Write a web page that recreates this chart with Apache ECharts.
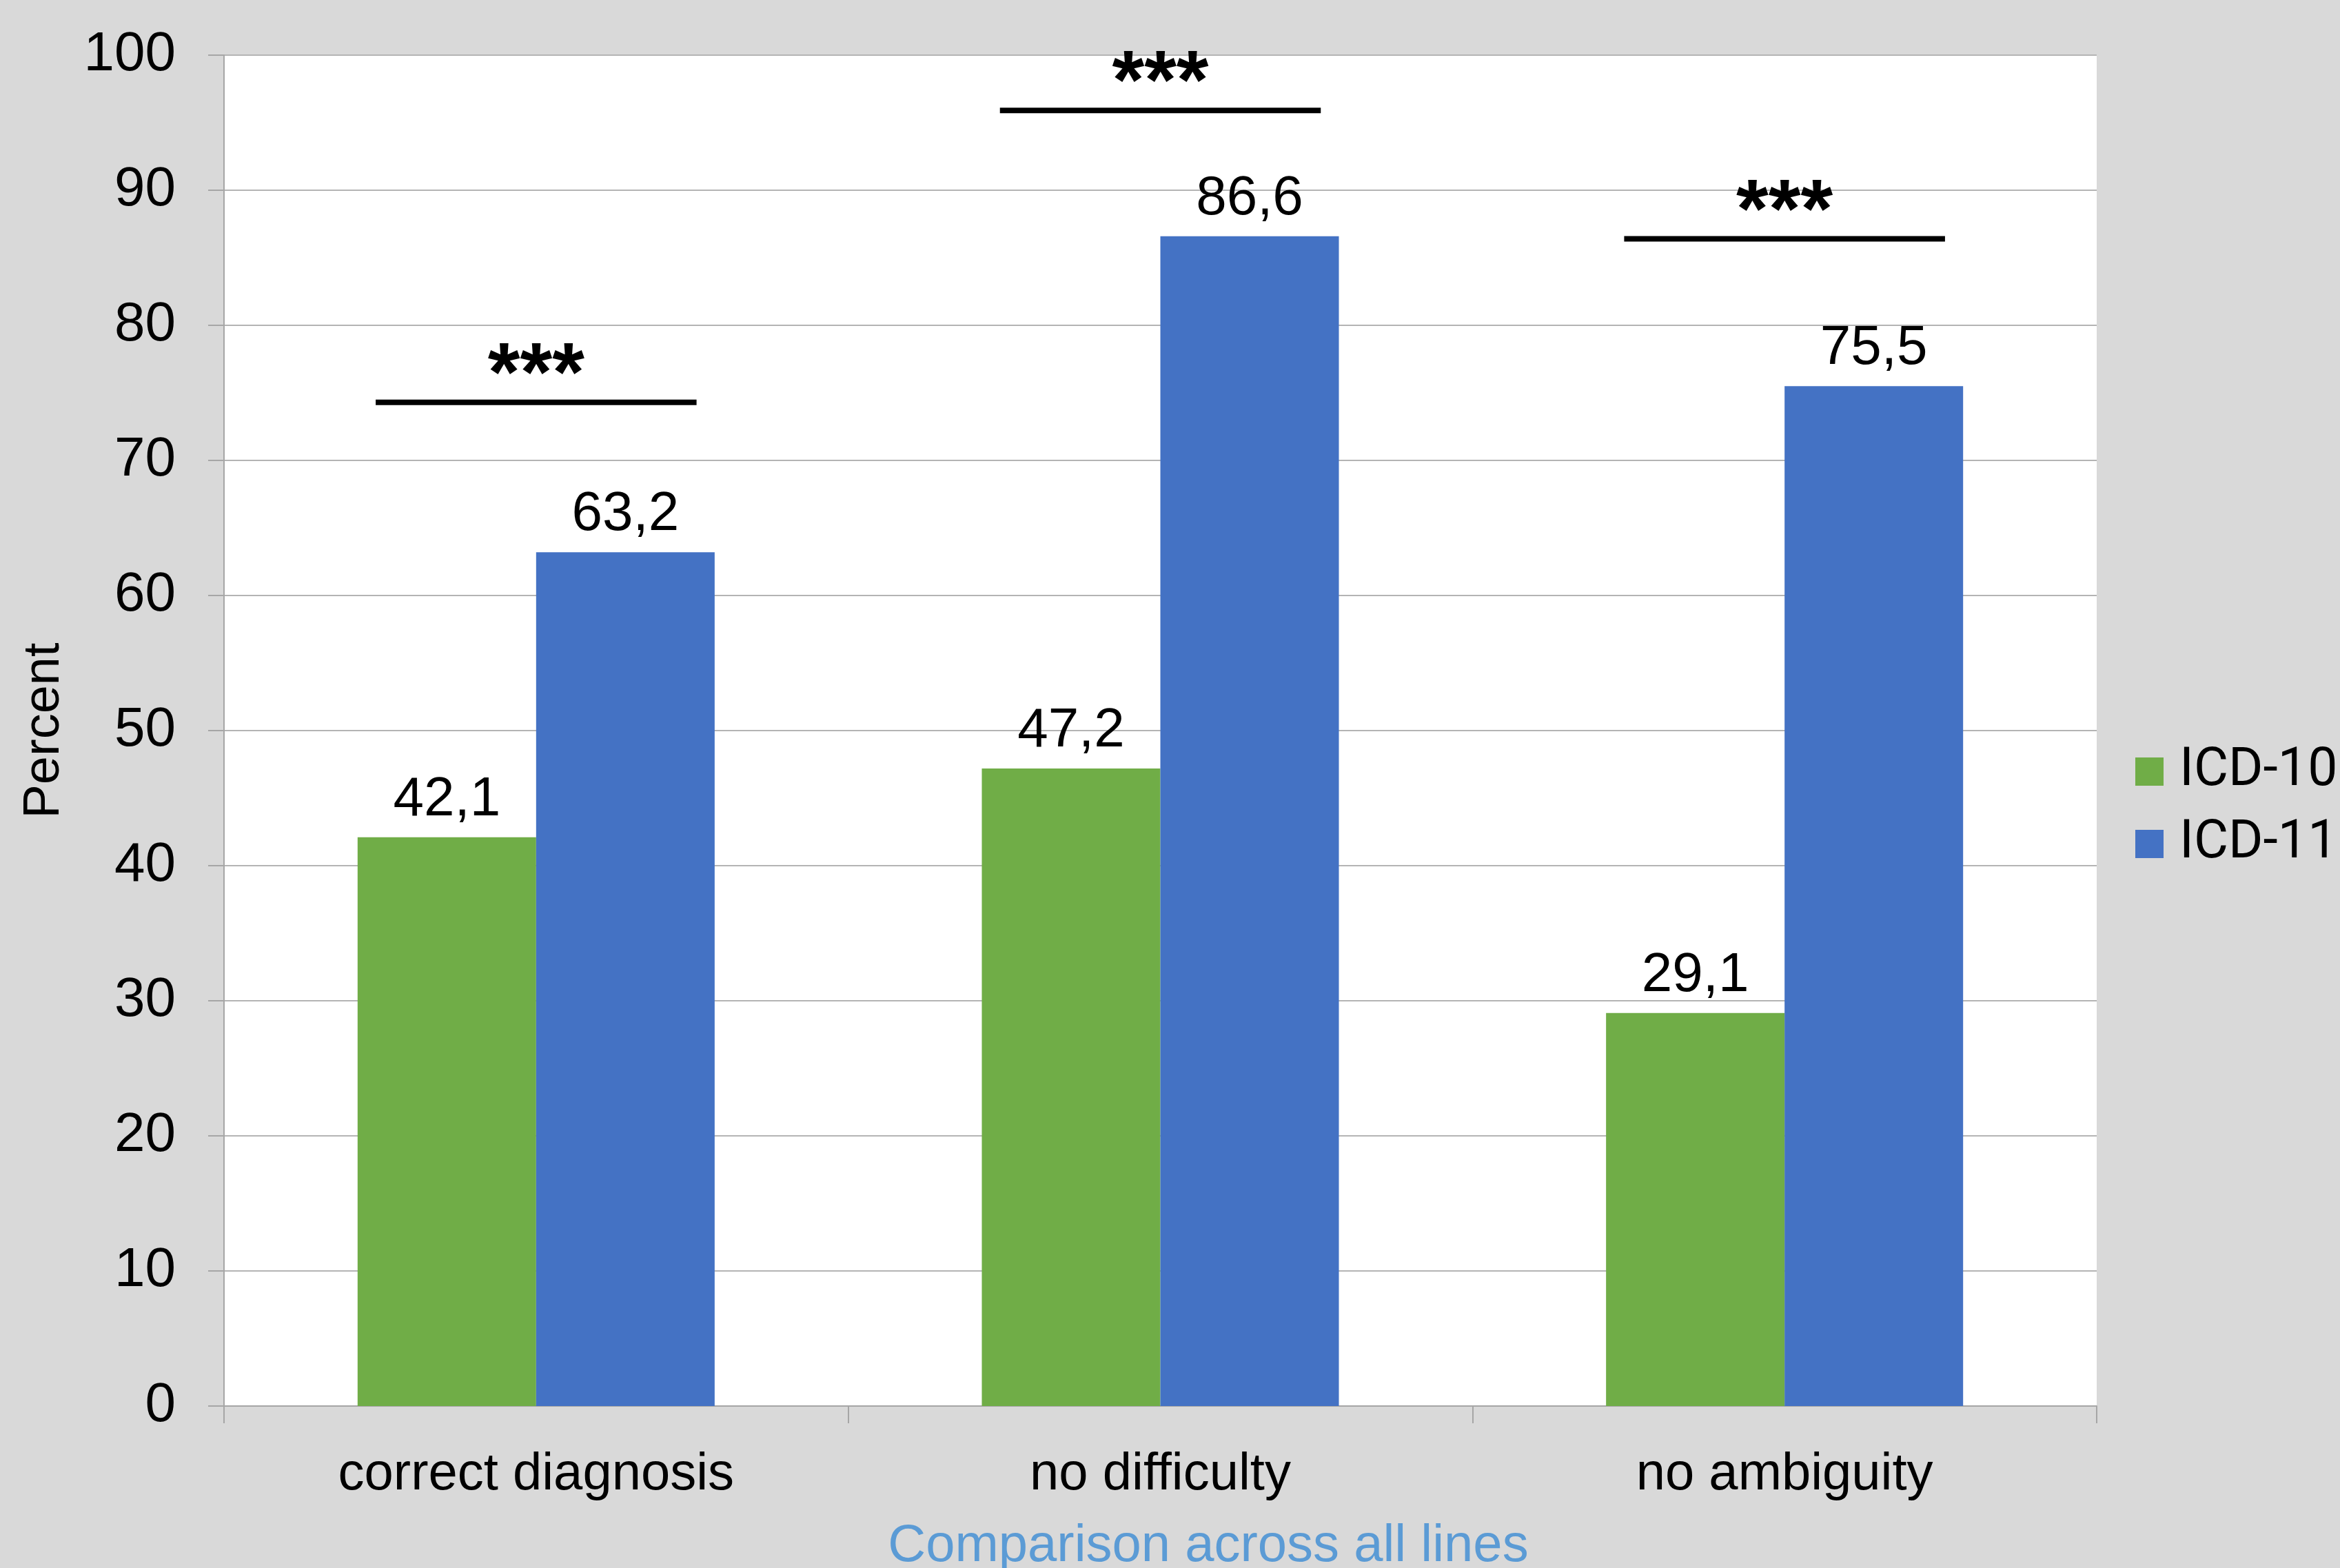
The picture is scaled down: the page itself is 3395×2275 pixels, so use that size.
<!DOCTYPE html>
<html>
<head>
<meta charset="utf-8">
<script src="https://cdn.jsdelivr.net/npm/echarts@6/dist/echarts.min.js"></script>
<style>
  html, body { margin: 0; padding: 0; background: #D9D9D9; }
  #chart { width: 3395px; height: 2275px; }
</style>
</head>
<body>
<div id="chart"></div>
<script>
// Share of cases per criterion, ICD-10 vs ICD-11 (percent)
const categories = ['correct diagnosis', 'no difficulty', 'no ambiguity'];
const seriesNames = ['ICD-10', 'ICD-11'];
const icd10Values = [42.1, 47.2, 29.1];
const icd11Values = [63.2, 86.6, 75.5];

// Significance brackets: category index, bracket height (percent), marker text
const sigCategories = [0, 1, 2];
const sigLevels = [74.3, 95.9, 86.4];
const sigMarks = ['***', '***', '***'];

const yTicks = { min: 0, max: 100, interval: 10 };

const FONT = "'Liberation Sans', Arial, sans-serif";
const GRID_COLOR = '#B4B4B4';

const fmt = v => String(v.toFixed(1)).replace('.', ',');

const chart = echarts.init(document.getElementById('chart'));

const sigData = sigCategories.map((c, i) => [c, sigLevels[i], sigMarks[i]]);

const valueLabel = {
  show: true, position: 'top', distance: 14,
  formatter: p => fmt(p.value),
  fontSize: 80, color: '#000', fontFamily: FONT
};

chart.setOption({
  backgroundColor: '#D9D9D9',
  animation: false,
  textStyle: { fontFamily: FONT },
  title: {
    text: 'Comparison across all lines',
    left: 1748,
    textAlign: 'center',
    top: 2201,
    textStyle: { color: '#5B9BD5', fontSize: 76, fontWeight: 'normal', fontFamily: FONT }
  },
  legend: {
    data: seriesNames,
    orient: 'vertical',
    left: 3098,
    top: 1081,
    padding: 0,
    itemWidth: 41,
    itemHeight: 41,
    itemGap: 28,
    icon: 'rect',
    textStyle: { fontSize: 77, color: '#000', fontFamily: "Roboto, 'Liberation Sans', sans-serif", padding: [0, 0, 0, 18] }
  },
  grid: {
    left: 325,
    right: 353,
    top: 80,
    bottom: 235,
    show: true,
    backgroundColor: '#FFFFFF',
    borderWidth: 0,
    containLabel: false,
    outerBoundsMode: 'none'
  },
  xAxis: {
    type: 'category',
    data: categories,
    axisLine: { show: true, lineStyle: { color: '#A6A6A6', width: 2 } },
    axisTick: { show: true, length: 25, lineStyle: { color: '#A6A6A6', width: 2 } },
    axisLabel: { fontSize: 76, color: '#000', margin: 62, fontFamily: FONT },
    splitLine: { show: false }
  },
  yAxis: {
    type: 'value',
    min: yTicks.min,
    max: yTicks.max,
    interval: yTicks.interval,
    name: 'Percent',
    nameLocation: 'middle',
    nameRotate: 90,
    nameGap: 223,
    nameTextStyle: { fontSize: 74, color: '#000', fontFamily: FONT },
    axisLine: { show: true, lineStyle: { color: '#A6A6A6', width: 2 } },
    axisTick: { show: true, length: 23, lineStyle: { color: '#A6A6A6', width: 2 } },
    axisLabel: { fontSize: 80, color: '#000', margin: 70, fontFamily: FONT },
    splitLine: { show: true, lineStyle: { color: GRID_COLOR, width: 2 } }
  },
  series: [
    {
      name: seriesNames[0],
      type: 'bar',
      data: icd10Values,
      barWidth: '28.6%',
      barGap: '0%',
      itemStyle: { color: '#70AD47' },
      label: valueLabel
    },
    {
      name: seriesNames[1],
      type: 'bar',
      data: icd11Values,
      barWidth: '28.6%',
      barGap: '0%',
      itemStyle: { color: '#4472C4' },
      label: valueLabel
    },
    {
      name: 'significance',
      type: 'custom',
      data: sigData,
      clip: false,
      z: 10,
      renderItem: (params, api) => {
        const pt = api.coord([api.value(0), api.value(1)]);
        const band = api.size([1, 0])[0];
        const half = band * 0.257;
        const mark = sigData[params.dataIndex][2];
        return {
          type: 'group',
          children: [
            {
              type: 'line',
              shape: { x1: pt[0] - half, y1: pt[1], x2: pt[0] + half, y2: pt[1] },
              style: { stroke: '#000', lineWidth: 8 }
            },
            {
              type: 'text',
              x: pt[0],
              y: pt[1] - 36,
              style: {
                text: mark, fill: '#000', fontSize: 120, fontWeight: 'bold',
                fontFamily: FONT, align: 'center', verticalAlign: 'middle'
              }
            }
          ]
        };
      }
    }
  ]
});
</script>
</body>
</html>
